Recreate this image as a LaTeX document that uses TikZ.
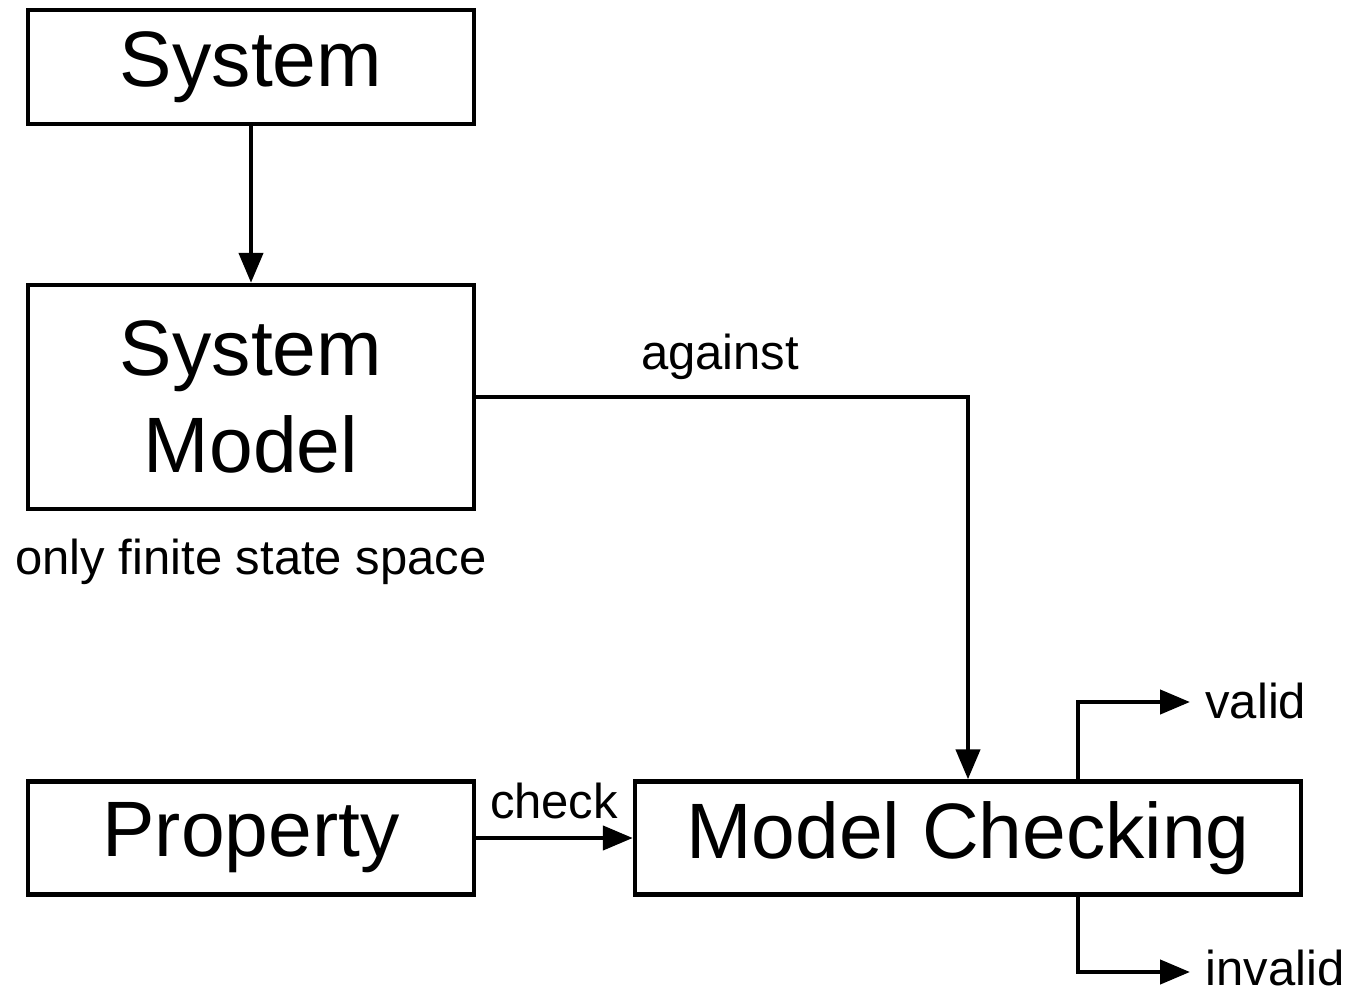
\documentclass[tikz,border=0pt]{standalone}
\usepackage{fontspec}
\setmainfont{Liberation Sans}
\usetikzlibrary{arrows.meta}
\begin{document}
\begin{tikzpicture}[x=0.5pt,y=-0.5pt,
  box/.style={draw, line width=2.2pt, inner sep=0pt, font=\fontsize{39.3}{48.5}\selectfont, align=center},
  lbl/.style={font=\fontsize{24.5}{29}\selectfont, inner sep=0pt},
  conn/.style={line width=2.2pt, -{Triangle[length=15pt,width=12pt]}}]
\useasboundingbox (0,0) rectangle (1346,997);
% boxes
\node[box, minimum width=223pt, minimum height=57pt] (sys) at (251,67) {System};
\node[box, minimum width=223pt, minimum height=112pt] (model) at (251,397) {System\\Model};
\node[box, minimum width=223pt, minimum height=56.5pt] (prop) at (251,838) {Property};
\node[box, minimum width=333pt, minimum height=56.5pt] (mc) at (968,838) {Model Checking};
% labels
\node[lbl] (fin) at (251,562) {only finite state space};
\node[lbl] (ag) at (720,357) {against};
\node[lbl] (chk) at (554,801) {check};
\node[lbl, anchor=west] (val) at (1205,701) {valid};
\node[lbl, anchor=west] (inv) at (1205,968) {invalid};
% result branch points
\coordinate (vt) at (1078,782);
\coordinate (vb) at (1078,895);
\coordinate (vend) at (1190,702);
\coordinate (iend) at (1190,972);
% connectors
\draw[conn] (sys) -- (model);
\draw[conn] (model.east) -- (model.east -| mc.north) -- (mc.north);
\draw[conn] (prop) -- (mc);
\draw[conn] (vt) |- (vend);
\draw[conn] (vb) |- (iend);
\end{tikzpicture}
\end{document}
